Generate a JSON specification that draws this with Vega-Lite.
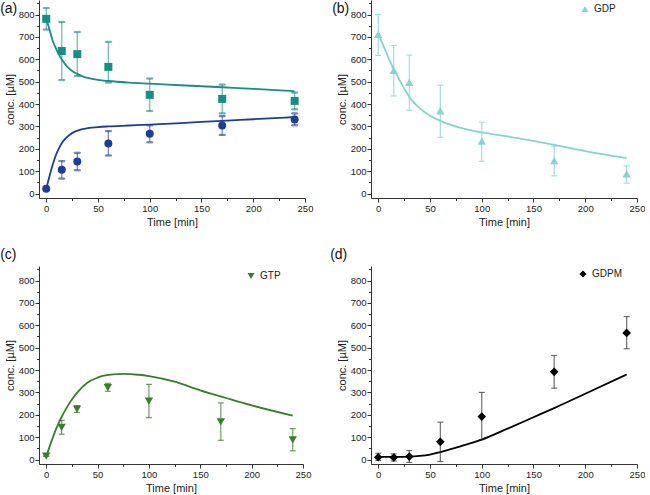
{
"$schema": "https://vega.github.io/schema/vega-lite/v6.json",
"padding": {"left": 0, "top": 0, "right": 0, "bottom": 0},
"spacing": 20,
"resolve": {"scale": {"color": "independent", "shape": "independent", "stroke": "independent", "x": "independent", "y": "independent"}},
"datasets": {
"a_meas": [
{"t":0,"v":781,"lo":733,"hi":829,"s":"ADP"},{"t":15,"v":637,"lo":507,"hi":767,"s":"ADP"},{"t":30,"v":623,"lo":525,"hi":722,"s":"ADP"},{"t":60,"v":566,"lo":496,"hi":678,"s":"ADP"},{"t":100,"v":441,"lo":369,"hi":514,"s":"ADP"},{"t":170,"v":423,"lo":358,"hi":487,"s":"ADP"},{"t":240,"v":414,"lo":376,"hi":451,"s":"ADP"},
{"t":0,"v":21,"lo":21,"hi":21,"s":"ATP"},{"t":15,"v":106,"lo":67,"hi":145,"s":"ATP"},{"t":30,"v":143,"lo":104,"hi":182,"s":"ATP"},{"t":60,"v":224,"lo":170,"hi":279,"s":"ATP"},{"t":100,"v":267,"lo":229,"hi":305,"s":"ATP"},{"t":170,"v":304,"lo":262,"hi":346,"s":"ATP"},{"t":240,"v":331,"lo":305,"hi":358,"s":"ATP"}
],
"a_fit": [
{"t":0,"v":780,"s":"ADP"},{"t":3,"v":735,"s":"ADP"},{"t":6,"v":686,"s":"ADP"},{"t":9,"v":652,"s":"ADP"},{"t":12,"v":623,"s":"ADP"},{"t":15,"v":600,"s":"ADP"},{"t":20,"v":568,"s":"ADP"},{"t":25,"v":548,"s":"ADP"},{"t":30,"v":534,"s":"ADP"},{"t":35,"v":524,"s":"ADP"},{"t":40,"v":517,"s":"ADP"},{"t":50,"v":508,"s":"ADP"},{"t":60,"v":503,"s":"ADP"},{"t":80,"v":496,"s":"ADP"},{"t":100,"v":491,"s":"ADP"},{"t":130,"v":484,"s":"ADP"},{"t":170,"v":475,"s":"ADP"},{"t":200,"v":468,"s":"ADP"},{"t":240,"v":457,"s":"ADP"},
{"t":0,"v":20,"s":"ATP"},{"t":3,"v":75,"s":"ATP"},{"t":6,"v":125,"s":"ATP"},{"t":9,"v":168,"s":"ATP"},{"t":12,"v":200,"s":"ATP"},{"t":15,"v":225,"s":"ATP"},{"t":20,"v":252,"s":"ATP"},{"t":25,"v":270,"s":"ATP"},{"t":30,"v":281,"s":"ATP"},{"t":35,"v":288,"s":"ATP"},{"t":40,"v":292,"s":"ATP"},{"t":50,"v":297,"s":"ATP"},{"t":60,"v":300,"s":"ATP"},{"t":80,"v":304,"s":"ATP"},{"t":100,"v":308,"s":"ATP"},{"t":130,"v":315,"s":"ATP"},{"t":170,"v":325,"s":"ATP"},{"t":200,"v":332,"s":"ATP"},{"t":240,"v":342,"s":"ATP"}
],
"b_meas": [
{"t":0,"v":711,"lo":617,"hi":800,"s":"GDP"},{"t":15,"v":550,"lo":436,"hi":662,"s":"GDP"},{"t":30,"v":497,"lo":372,"hi":619,"s":"GDP"},{"t":60,"v":369,"lo":251,"hi":484,"s":"GDP"},{"t":100,"v":234,"lo":144,"hi":319,"s":"GDP"},{"t":170,"v":147,"lo":79,"hi":212,"s":"GDP"},{"t":240,"v":88,"lo":46,"hi":123,"s":"GDP"}
],
"b_fit": [
{"t":0,"v":712,"s":"GDP"},{"t":5,"v":660,"s":"GDP"},{"t":10,"v":605,"s":"GDP"},{"t":15,"v":555,"s":"GDP"},{"t":20,"v":512,"s":"GDP"},{"t":25,"v":470,"s":"GDP"},{"t":30,"v":432,"s":"GDP"},{"t":40,"v":382,"s":"GDP"},{"t":50,"v":348,"s":"GDP"},{"t":60,"v":325,"s":"GDP"},{"t":80,"v":293,"s":"GDP"},{"t":100,"v":273,"s":"GDP"},{"t":125,"v":255,"s":"GDP"},{"t":150,"v":235,"s":"GDP"},{"t":175,"v":213,"s":"GDP"},{"t":200,"v":190,"s":"GDP"},{"t":240,"v":158,"s":"GDP"}
],
"c_meas": [
{"t":0,"v":15,"lo":15,"hi":15,"s":"GTP"},{"t":15,"v":144,"lo":113,"hi":175,"s":"GTP"},{"t":30,"v":225,"lo":210,"hi":241,"s":"GTP"},{"t":60,"v":321,"lo":305,"hi":341,"s":"GTP"},{"t":100,"v":261,"lo":187,"hi":336,"s":"GTP"},{"t":170,"v":168,"lo":86,"hi":253,"s":"GTP"},{"t":240,"v":88,"lo":39,"hi":138,"s":"GTP"}
],
"c_fit": [
{"t":0,"v":12,"s":"GTP"},{"t":5,"v":80,"s":"GTP"},{"t":10,"v":140,"s":"GTP"},{"t":15,"v":190,"s":"GTP"},{"t":20,"v":232,"s":"GTP"},{"t":25,"v":268,"s":"GTP"},{"t":30,"v":298,"s":"GTP"},{"t":40,"v":343,"s":"GTP"},{"t":50,"v":366,"s":"GTP"},{"t":55,"v":374,"s":"GTP"},{"t":65,"v":381,"s":"GTP"},{"t":75,"v":383,"s":"GTP"},{"t":90,"v":379,"s":"GTP"},{"t":100,"v":373,"s":"GTP"},{"t":125,"v":348,"s":"GTP"},{"t":150,"v":309,"s":"GTP"},{"t":175,"v":275,"s":"GTP"},{"t":200,"v":242,"s":"GTP"},{"t":240,"v":196,"s":"GTP"}
],
"d_meas": [
{"t":0,"v":10,"lo":-4,"hi":28,"s":"GDPM"},{"t":15,"v":9,"lo":-7,"hi":25,"s":"GDPM"},{"t":30,"v":13,"lo":-13,"hi":40,"s":"GDPM"},{"t":60,"v":79,"lo":-9,"hi":167,"s":"GDPM"},{"t":100,"v":192,"lo":89,"hi":300,"s":"GDPM"},{"t":170,"v":392,"lo":319,"hi":465,"s":"GDPM"},{"t":240,"v":566,"lo":495,"hi":639,"s":"GDPM"}
],
"d_fit": [
{"t":0,"v":12,"s":"GDPM"},{"t":15,"v":12,"s":"GDPM"},{"t":30,"v":13,"s":"GDPM"},{"t":40,"v":16,"s":"GDPM"},{"t":50,"v":22,"s":"GDPM"},{"t":60,"v":33,"s":"GDPM"},{"t":70,"v":46,"s":"GDPM"},{"t":80,"v":60,"s":"GDPM"},{"t":90,"v":74,"s":"GDPM"},{"t":100,"v":89,"s":"GDPM"},{"t":125,"v":138,"s":"GDPM"},{"t":150,"v":189,"s":"GDPM"},{"t":170,"v":230,"s":"GDPM"},{"t":200,"v":294,"s":"GDPM"},{"t":240,"v":380,"s":"GDPM"}
]
},
"vconcat": [
{"hconcat": [
{"width": 266, "height": 198,
 "title": {"text": "(a)", "anchor": "start", "frame": "bounds", "baseline": "top", "dy": 16, "dx": -4, "offset": 0},
 "resolve": {"axis": {"x": "independent", "y": "independent"}},
 "layer": [
  {"data": {"name": "a_fit"}, "mark": {"type": "line", "strokeWidth": 1.8, "interpolate": "monotone"},
   "encoding": {"x": {"field": "t", "type": "quantitative", "scale": {"domain": [-7, 250], "nice": false, "zero": false}, "axis": {"values": [25, 75, 125, 175, 225], "labels": false, "domain": false, "tickSize": 2.5, "title": null, "orient": "bottom"}},
    "y": {"field": "v", "type": "quantitative", "scale": {"domain": [-20, 865], "nice": false, "zero": false}, "axis": {"values": [50, 150, 250, 350, 450, 550, 650, 750, 850], "labels": false, "domain": false, "tickSize": 2.5, "title": null, "orient": "left"}},
    "stroke": {"field": "s", "type": "nominal", "scale": {"domain": ["ADP", "ATP"], "range": ["#178f84", "#1e3d96"]}, "legend": null},
    "detail": {"field": "s"}}},
  {"data": {"name": "a_meas"}, "mark": {"type": "rule", "strokeWidth": 1.2, "opacity": 0.65},
   "encoding": {"x": {"field": "t", "type": "quantitative", "axis": null}, "y": {"field": "lo", "type": "quantitative", "axis": null}, "y2": {"field": "hi"},
    "stroke": {"field": "s", "type": "nominal", "legend": null}}},
  {"data": {"name": "a_meas"}, "mark": {"type": "tick", "orient": "horizontal", "size": 6, "thickness": 1.2, "opacity": 0.65},
   "encoding": {"x": {"field": "t", "type": "quantitative", "axis": null}, "y": {"field": "lo", "type": "quantitative", "axis": null},
    "stroke": {"field": "s", "type": "nominal", "legend": null}}},
  {"data": {"name": "a_meas"}, "mark": {"type": "tick", "orient": "horizontal", "size": 6, "thickness": 1.2, "opacity": 0.65},
   "encoding": {"x": {"field": "t", "type": "quantitative", "axis": null}, "y": {"field": "hi", "type": "quantitative", "axis": null},
    "stroke": {"field": "s", "type": "nominal", "legend": null}}},
  {"data": {"name": "a_meas"}, "mark": {"type": "point", "filled": true, "size": 64, "opacity": 1},
   "encoding": {"x": {"field": "t", "type": "quantitative", "axis": {"values": [0, 50, 100, 150, 200, 250], "title": "Time [min]", "orient": "bottom"}},
    "y": {"field": "v", "type": "quantitative", "axis": {"values": [0, 100, 200, 300, 400, 500, 600, 700, 800], "title": "conc. [µM]", "orient": "left"}},
    "color": {"field": "s", "type": "nominal", "scale": {"domain": ["ADP", "ATP"], "range": ["#178f84", "#1e3d96"]}, "legend": {"title": null, "orient": "none", "legendX": 206, "legendY": 2}},
    "shape": {"field": "s", "type": "nominal", "scale": {"domain": ["ADP", "ATP"], "range": ["square", "circle"]}, "legend": {"title": null, "orient": "none", "legendX": 206, "legendY": 2}}}}
 ]},
{"width": 266, "height": 198,
 "title": {"text": "(b)", "anchor": "start", "frame": "bounds", "baseline": "top", "dy": 16, "dx": -4, "offset": 0},
 "resolve": {"axis": {"x": "independent", "y": "independent"}},
 "layer": [
  {"data": {"name": "b_fit"}, "mark": {"type": "line", "strokeWidth": 1.8, "interpolate": "monotone", "color": "#86d3cf"},
   "encoding": {"x": {"field": "t", "type": "quantitative", "scale": {"domain": [-7, 250], "nice": false, "zero": false}, "axis": {"values": [25, 75, 125, 175, 225], "labels": false, "domain": false, "tickSize": 2.5, "title": null, "orient": "bottom"}},
    "y": {"field": "v", "type": "quantitative", "scale": {"domain": [-20, 865], "nice": false, "zero": false}, "axis": {"values": [50, 150, 250, 350, 450, 550, 650, 750, 850], "labels": false, "domain": false, "tickSize": 2.5, "title": null, "orient": "left"}}}},
  {"data": {"name": "b_meas"}, "mark": {"type": "rule", "strokeWidth": 1.2, "opacity": 0.75, "color": "#86d3cf"},
   "encoding": {"x": {"field": "t", "type": "quantitative", "axis": null}, "y": {"field": "lo", "type": "quantitative", "axis": null}, "y2": {"field": "hi"}}},
  {"data": {"name": "b_meas"}, "mark": {"type": "tick", "orient": "horizontal", "size": 6, "thickness": 1.2, "opacity": 0.75, "color": "#86d3cf"},
   "encoding": {"x": {"field": "t", "type": "quantitative", "axis": null}, "y": {"field": "lo", "type": "quantitative", "axis": null}}},
  {"data": {"name": "b_meas"}, "mark": {"type": "tick", "orient": "horizontal", "size": 6, "thickness": 1.2, "opacity": 0.75, "color": "#86d3cf"},
   "encoding": {"x": {"field": "t", "type": "quantitative", "axis": null}, "y": {"field": "hi", "type": "quantitative", "axis": null}}},
  {"data": {"name": "b_meas"}, "mark": {"type": "point", "filled": true, "size": 70, "opacity": 1},
   "encoding": {"x": {"field": "t", "type": "quantitative", "axis": {"values": [0, 50, 100, 150, 200, 250], "title": "Time [min]", "orient": "bottom"}},
    "y": {"field": "v", "type": "quantitative", "axis": {"values": [0, 100, 200, 300, 400, 500, 600, 700, 800], "title": "conc. [µM]", "orient": "left"}},
    "color": {"field": "s", "type": "nominal", "scale": {"domain": ["GDP"], "range": ["#86d3cf"]}, "legend": {"title": null, "orient": "none", "legendX": 207, "legendY": 2}},
    "shape": {"field": "s", "type": "nominal", "scale": {"domain": ["GDP"], "range": ["triangle-up"]}, "legend": {"title": null, "orient": "none", "legendX": 207, "legendY": 2}}}}
 ]}
],
 "spacing": 19,
 "resolve": {"scale": {"color": "independent", "shape": "independent", "stroke": "independent", "x": "independent", "y": "independent"}}},
{"hconcat": [
{"width": 264, "height": 198,
 "title": {"text": "(c)", "anchor": "start", "frame": "bounds", "baseline": "top", "dy": 0, "dx": -4, "offset": 4},
 "resolve": {"axis": {"x": "independent", "y": "independent"}},
 "layer": [
  {"data": {"name": "c_fit"}, "mark": {"type": "line", "strokeWidth": 1.8, "interpolate": "monotone", "color": "#3a7d2c"},
   "encoding": {"x": {"field": "t", "type": "quantitative", "scale": {"domain": [-7, 250], "nice": false, "zero": false}, "axis": {"values": [25, 75, 125, 175, 225], "labels": false, "domain": false, "tickSize": 2.5, "title": null, "orient": "bottom"}},
    "y": {"field": "v", "type": "quantitative", "scale": {"domain": [-20, 865], "nice": false, "zero": false}, "axis": {"values": [50, 150, 250, 350, 450, 550, 650, 750, 850], "labels": false, "domain": false, "tickSize": 2.5, "title": null, "orient": "left"}}}},
  {"data": {"name": "c_meas"}, "mark": {"type": "rule", "strokeWidth": 1.2, "opacity": 0.75, "color": "#3a7d2c"},
   "encoding": {"x": {"field": "t", "type": "quantitative", "axis": null}, "y": {"field": "lo", "type": "quantitative", "axis": null}, "y2": {"field": "hi"}}},
  {"data": {"name": "c_meas"}, "mark": {"type": "tick", "orient": "horizontal", "size": 6, "thickness": 1.2, "opacity": 0.75, "color": "#3a7d2c"},
   "encoding": {"x": {"field": "t", "type": "quantitative", "axis": null}, "y": {"field": "lo", "type": "quantitative", "axis": null}}},
  {"data": {"name": "c_meas"}, "mark": {"type": "tick", "orient": "horizontal", "size": 6, "thickness": 1.2, "opacity": 0.75, "color": "#3a7d2c"},
   "encoding": {"x": {"field": "t", "type": "quantitative", "axis": null}, "y": {"field": "hi", "type": "quantitative", "axis": null}}},
  {"data": {"name": "c_meas"}, "mark": {"type": "point", "filled": true, "size": 70, "opacity": 1},
   "encoding": {"x": {"field": "t", "type": "quantitative", "axis": {"values": [0, 50, 100, 150, 200, 250], "title": "Time [min]", "orient": "bottom"}},
    "y": {"field": "v", "type": "quantitative", "axis": {"values": [0, 100, 200, 300, 400, 500, 600, 700, 800], "title": "conc. [µM]", "orient": "left"}},
    "color": {"field": "s", "type": "nominal", "scale": {"domain": ["GTP"], "range": ["#3a7d2c"]}, "legend": {"title": null, "orient": "none", "legendX": 205, "legendY": 3}},
    "shape": {"field": "s", "type": "nominal", "scale": {"domain": ["GTP"], "range": ["triangle-down"]}, "legend": {"title": null, "orient": "none", "legendX": 205, "legendY": 3}}}}
 ]},
{"width": 266, "height": 198,
 "title": {"text": "(d)", "anchor": "start", "frame": "bounds", "baseline": "top", "dy": 0, "dx": -6, "offset": 4},
 "resolve": {"axis": {"x": "independent", "y": "independent"}},
 "layer": [
  {"data": {"name": "d_fit"}, "mark": {"type": "line", "strokeWidth": 1.8, "interpolate": "monotone", "color": "#000000"},
   "encoding": {"x": {"field": "t", "type": "quantitative", "scale": {"domain": [-7, 250], "nice": false, "zero": false}, "axis": {"values": [25, 75, 125, 175, 225], "labels": false, "domain": false, "tickSize": 2.5, "title": null, "orient": "bottom"}},
    "y": {"field": "v", "type": "quantitative", "scale": {"domain": [-20, 865], "nice": false, "zero": false}, "axis": {"values": [50, 150, 250, 350, 450, 550, 650, 750, 850], "labels": false, "domain": false, "tickSize": 2.5, "title": null, "orient": "left"}}}},
  {"data": {"name": "d_meas"}, "mark": {"type": "rule", "strokeWidth": 1.2, "opacity": 0.65, "color": "#222222"},
   "encoding": {"x": {"field": "t", "type": "quantitative", "axis": null}, "y": {"field": "lo", "type": "quantitative", "axis": null}, "y2": {"field": "hi"}}},
  {"data": {"name": "d_meas"}, "mark": {"type": "tick", "orient": "horizontal", "size": 6, "thickness": 1.2, "opacity": 0.65, "color": "#222222"},
   "encoding": {"x": {"field": "t", "type": "quantitative", "axis": null}, "y": {"field": "lo", "type": "quantitative", "axis": null}}},
  {"data": {"name": "d_meas"}, "mark": {"type": "tick", "orient": "horizontal", "size": 6, "thickness": 1.2, "opacity": 0.65, "color": "#222222"},
   "encoding": {"x": {"field": "t", "type": "quantitative", "axis": null}, "y": {"field": "hi", "type": "quantitative", "axis": null}}},
  {"data": {"name": "d_meas"}, "mark": {"type": "point", "filled": true, "size": 75, "opacity": 1},
   "encoding": {"x": {"field": "t", "type": "quantitative", "axis": {"values": [0, 50, 100, 150, 200, 250], "title": "Time [min]", "orient": "bottom"}},
    "y": {"field": "v", "type": "quantitative", "axis": {"values": [0, 100, 200, 300, 400, 500, 600, 700, 800], "title": "conc. [µM]", "orient": "left"}},
    "color": {"field": "s", "type": "nominal", "scale": {"domain": ["GDPM"], "range": ["#000000"]}, "legend": {"title": null, "orient": "none", "legendX": 205, "legendY": 1}},
    "shape": {"field": "s", "type": "nominal", "scale": {"domain": ["GDPM"], "range": ["diamond"]}, "legend": {"title": null, "orient": "none", "legendX": 205, "legendY": 1}}}}
 ]}
],
 "spacing": 19,
 "resolve": {"scale": {"color": "independent", "shape": "independent", "stroke": "independent", "x": "independent", "y": "independent"}}}
],
"config": {
 "font": "Liberation Sans",
 "view": {"stroke": null},
 "title": {"fontSize": 14, "fontWeight": "normal", "color": "#111111"},
 "axis": {"grid": false, "domainColor": "#333333", "tickColor": "#333333", "labelColor": "#222222", "titleColor": "#222222", "labelFontSize": 9.5, "titleFontSize": 11, "titleFontWeight": "normal", "tickSize": 4, "labelPadding": 1, "domainWidth": 1, "tickWidth": 1, "labelFlush": false},
 "axisY": {"titlePadding": 3},
 "axisX": {"titlePadding": 4},
 "legend": {"padding": 2, "labelFontSize": 10, "labelColor": "#222222", "symbolSize": 50, "rowPadding": 4, "symbolOpacity": 1}
}
}
